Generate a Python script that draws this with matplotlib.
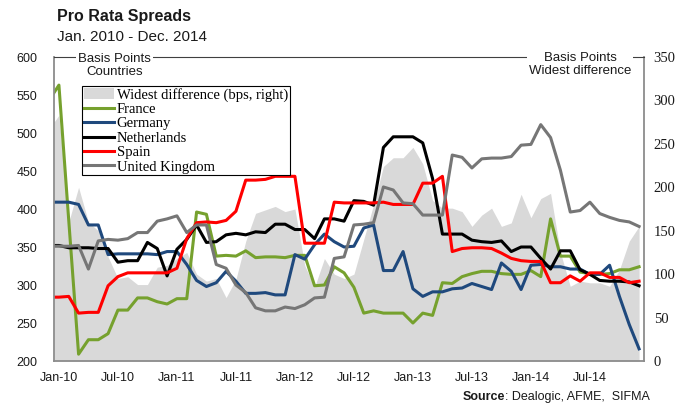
import numpy as np
import matplotlib
matplotlib.use("Agg")
import matplotlib.pyplot as plt
from matplotlib.patches import Patch
from matplotlib.lines import Line2D

# monthly data, Jan-10 .. Dec-14
months = np.arange(60)
tick_pos = np.arange(0, 60, 6)
tick_labels = ["Jan-10", "Jul-10", "Jan-11", "Jul-11", "Jan-12",
               "Jul-12", "Jan-13", "Jul-13", "Jan-14", "Jul-14"]

widest = [283, 160, 200, 160, 150, 120, 95, 97, 88, 88,
          108, 110, 118, 125, 100, 92, 95, 73, 94, 138,
          170, 174, 178, 172, 175, 110, 85, 118, 100, 95,
          100, 140, 180, 224, 234, 234, 246, 227, 185, 176,
          176, 172, 155, 168, 176, 155, 159, 192, 165, 187,
          193, 125, 86, 92, 90, 90, 86, 105, 138, 155]
france = [563, 385, 209, 228, 228, 236, 267, 267, 283, 283,
          278, 275, 282, 282, 396, 393, 338, 339, 338, 345,
          336, 337, 337, 336, 339, 339, 299, 300, 324, 316,
          297, 263, 266, 263, 263, 263, 250, 263, 260, 303,
          302, 311, 315, 318, 318, 315, 314, 314, 319, 311,
          387, 338, 338, 317, 315, 314, 315, 320, 320, 324]
germany = [409, 409, 406, 379, 379, 340, 341, 341, 341, 341,
           340, 344, 344, 327, 306, 298, 303, 318, 305, 289,
           289, 290, 287, 287, 340, 334, 353, 367, 357, 350,
           351, 375, 379, 319, 319, 344, 295, 285, 291, 291,
           295, 296, 302, 298, 294, 329, 318, 294, 326, 327,
           324, 324, 321, 321, 314, 314, 326, 285, 248, 216]
netherlands = [352, 349, 349, 349, 348, 348, 330, 332, 332, 356,
               348, 312, 347, 360, 379, 356, 357, 366, 368, 366,
               370, 369, 380, 380, 373, 373, 361, 387, 387, 384,
               411, 410, 405, 481, 495, 495, 495, 487, 440, 367,
               367, 367, 359, 357, 356, 358, 344, 350, 350, 335,
               321, 345, 345, 320, 314, 306, 305, 305, 304, 299]
spain = [284, 285, 263, 264, 264, 299, 311, 316, 316, 316,
         316, 316, 322, 361, 382, 383, 382, 385, 397, 438,
         438, 439, 443, 443, 443, 355, 355, 355, 409, 408,
         408, 408, 408, 409, 406, 406, 406, 434, 434, 443,
         344, 348, 349, 349, 348, 342, 335, 332, 331, 331,
         303, 303, 312, 305, 316, 316, 310, 310, 303, 305]
uk = [351, 351, 352, 321, 358, 360, 359, 361, 369, 369,
      384, 387, 391, 369, 379, 379, 327, 322, 300, 290,
      270, 266, 266, 271, 269, 274, 283, 284, 335, 337,
      379, 380, 382, 429, 425, 408, 407, 392, 392, 392,
      471, 468, 454, 466, 467, 467, 469, 484, 485, 511,
      494, 451, 396, 398, 409, 394, 389, 385, 383, 377]

# value at the left axis edge (half a month before Jan-10)
edge_france = 553
edge_widest = 275

series = [("France", france, "#76A12E"),
          ("Germany", germany, "#1F497D"),
          ("Netherlands", netherlands, "#000000"),
          ("Spain", spain, "#FF0000"),
          ("United Kingdom", uk, "#767676")]

SANS = "Liberation Sans"
SERIF = "Liberation Serif"
plt.rcParams["font.family"] = SANS


def ext(v, first=None):
    return np.r_[v[0] if first is None else first, v]


xs = np.r_[-0.5, months]

fig = plt.figure(figsize=(6.92, 4.05), dpi=100)
ax = fig.add_axes([54 / 692, 1 - 361 / 405, 590 / 692, 304 / 405])
ax2 = ax.twinx()
ax.set_zorder(ax2.get_zorder() + 1)
ax.patch.set_visible(False)

ax2.fill_between(xs, 0, ext(widest, edge_widest), color="#D9D9D9", lw=0)
ax2.set_ylim(0, 350)
ax2.set_yticks(range(0, 351, 50))

for name, vals, col in series:
    first = edge_france if name == "France" else None
    ax.plot(xs, ext(vals, first), color=col, lw=2.2)

ax.set_xlim(-0.5, 59.5)
ax.set_ylim(200, 600)
ax.set_yticks(range(200, 601, 50))
ax.set_xticks(tick_pos)
ax.set_xticklabels(tick_labels)

ax.tick_params(axis="both", length=0, labelsize=9, colors="#1a1a1a")
ax.tick_params(axis="y", pad=12)
ax.tick_params(axis="x", pad=8)
ax2.tick_params(axis="y", length=0, pad=7, labelsize=10.5, colors="#1a1a1a")
for lab in ax2.get_yticklabels():
    lab.set_fontfamily(SERIF)

ax.spines["right"].set_visible(False)
ax.spines["top"].set_color("#404040")
ax.spines["top"].set_linewidth(0.8)
for s in ["left", "bottom"]:
    ax.spines[s].set_color("#8c8c8c")
    ax.spines[s].set_linewidth(1.3)
for s in ["left", "bottom", "top"]:
    ax2.spines[s].set_visible(False)
ax2.spines["right"].set_color("#8c8c8c")
ax2.spines["right"].set_linewidth(1.3)

box = dict(facecolor="white", edgecolor="none", pad=1.5)
ax.text(0.103, 0.972, "Basis Points\nCountries", transform=ax.transAxes,
        ha="center", va="center", fontsize=9.5, linespacing=1.05,
        color="#1a1a1a", bbox=box, zorder=10, clip_on=False)
ax.text(0.8915, 0.9753, "Basis Points\nWidest difference", transform=ax.transAxes,
        ha="center", va="center", fontsize=9.5, linespacing=1.05,
        color="#1a1a1a", bbox=box, zorder=10, clip_on=False)

handles = [Patch(facecolor="#D9D9D9", edgecolor="none")]
labels = ["Widest difference (bps, right)"]
for name, vals, col in series:
    handles.append(Line2D([], [], color=col, lw=2.2))
    labels.append(name)
leg = ax.legend(handles, labels, loc="upper left", bbox_to_anchor=(0.0475, 0.9046),
                borderaxespad=0, fancybox=False, edgecolor="black", framealpha=1,
                prop={"family": SERIF, "size": 10.5}, handlelength=2.1,
                handletextpad=0.15, labelspacing=0.08, borderpad=0.12)
leg.get_frame().set_linewidth(0.8)
leg.set_zorder(11)

fig.text(57 / 692, 1 - 17 / 405, "Pro Rata Spreads", fontsize=11.5,
         fontweight="bold", va="center", ha="left", color="#1a1a1a")
fig.text(57 / 692, 1 - 37 / 405, "Jan. 2010 - Dec. 2014", fontsize=11,
         va="center", ha="left", color="#1a1a1a")

# source line: bold "Source" followed by regular text
src_x = 463 / 692
src_y = 1 - 397 / 405
t1 = fig.text(src_x, src_y, "Source", fontsize=9, fontweight="bold",
              va="center", ha="left", color="#1a1a1a")
fig.canvas.draw()
bb = t1.get_window_extent(fig.canvas.get_renderer())
fig.text(bb.x1 / fig.bbox.width, src_y, ": Dealogic, AFME,  SIFMA", fontsize=9,
         va="center", ha="left", color="#1a1a1a")

fig.savefig("out.png", dpi=100)
